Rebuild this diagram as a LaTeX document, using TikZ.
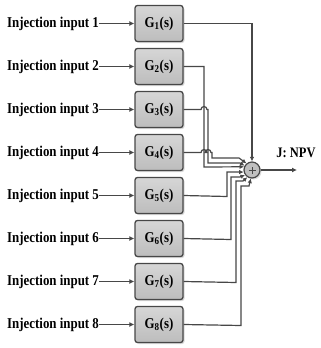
\documentclass[tikz,border=0pt]{standalone}
\usepackage{fontspec}
\setmainfont[FakeStretch=0.86]{Liberation Serif}
\usetikzlibrary{arrows.meta,shadows}
\begin{document}
\begin{tikzpicture}[x=1pt,y=-1pt,
  lbl/.style={font=\fontsize{15}{17}\selectfont\bfseries, inner sep=0pt, anchor=west},
  gbox/.style={draw=black!72, line width=1.3pt, rounded corners=2.5pt, top color=black!16, bottom color=black!26,
    minimum width=48pt, minimum height=36pt, inner sep=0pt,
    font=\fontsize{15}{17}\selectfont\bfseries,
    drop shadow={shadow xshift=1.5pt,shadow yshift=-1.5pt,fill=black!30}},
  wire/.style={draw=black!72, line width=1.2pt},
  inarr/.style={wire, -{Latex[length=5pt,width=5pt]}},
  sumarr/.style={wire, -{Latex[length=4.5pt,width=4.5pt]}}]
\useasboundingbox (0,0) rectangle (321,348);
\foreach \i in {1,...,8} {
  \pgfmathsetmacro\yy{23.5+43*(\i-1)}
  \node[lbl] (in\i) at (7,\yy) {Injection input \i};
  \node[gbox] (g\i) at (159,\yy) {G\textsubscript{\i}(s)};
  \draw[inarr] (in\i.east) -- (g\i.west);
}
\node[circle, draw=black!72, line width=1.2pt, fill=black!25, minimum size=16pt, inner sep=0pt,
  drop shadow={shadow xshift=1.5pt,shadow yshift=-1.5pt,fill=black!25}] (s) at (252,170) {};
\draw[wire, line width=0.8pt] ([xshift=-3.5pt]s.center) -- ([xshift=3.5pt]s.center);
\draw[wire, line width=0.8pt] ([yshift=-3.5pt]s.center) -- ([yshift=3.5pt]s.center);
\coordinate (out) at (297,170);
\draw[inarr] (s.east) -- (out);
\node[font=\fontsize{14.5}{16}\selectfont\bfseries, inner sep=0pt] (J) at (296,152.5) {J: NPV};
% upper inputs
\draw[sumarr] (g1.east) -| (s.north);
\draw[sumarr] (g2.east) -- (204,66.5) -- (204,167) -- (s.158);
\draw[sumarr] (g3.east) -- (201,109.5) arc[start angle=180,end angle=360,radius=3] -- (208,109.5) -- (208,163) -- (240,163) -- (s.150);
\draw[sumarr] (g4.east) -- (201,152.5) arc[start angle=180,end angle=360,radius=3]
  -- (205,152.5) arc[start angle=180,end angle=360,radius=3] -- (212,152.5) -- (212,158) -- (239,158) -- (s.130);
% lower inputs
\draw[sumarr] (g5.east) -- (227,196.5) -- (227,172) -- (s.194);
\draw[sumarr] (g6.east) -- (231,239.5) -- (231,177) -- (240,177) -- (s.215);
\draw[sumarr] (g7.east) -- (236,282.5) -- (236,181) -- (243,181) -- (s.237);
\draw[sumarr] (g8.east) -- (241,325.5) -- (241,186) -- (249,186) -- (s.262);
\end{tikzpicture}
\end{document}
